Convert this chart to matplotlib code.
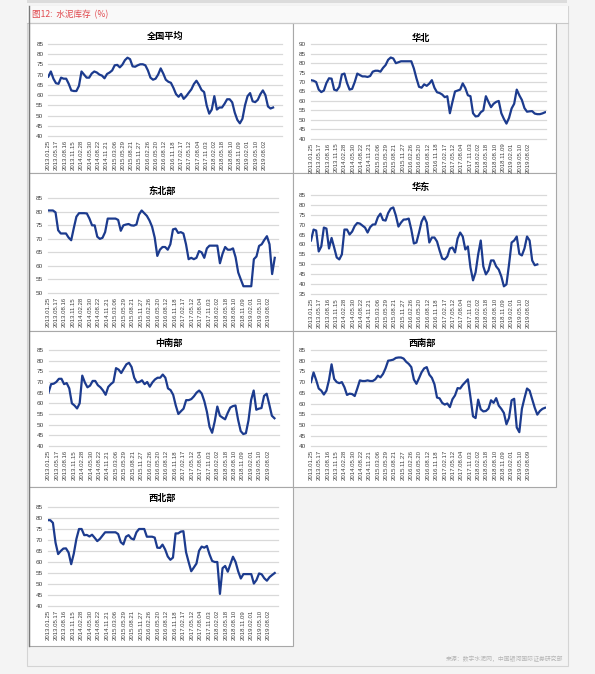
import numpy as np
import matplotlib
matplotlib.use('Agg')
import matplotlib.pyplot as plt
from matplotlib.patches import Rectangle

plt.rcParams['font.family'] = ['Liberation Sans', 'DejaVu Sans']
CJK = ['Noto Sans CJK SC', 'DejaVu Sans']

# weekly inventory ratio (%), one reading every 4 weeks from 2013.01.25
STEP = 4
national = [69, 71.5, 68, 65.8, 65.5, 68.5, 68, 68, 65.5, 62.3, 62, 62, 64.5, 71.5, 70, 68.5,
            68.5, 70.5, 71.5, 71, 70, 69.5, 68.2, 70.3, 71, 72, 74.5, 74.7, 73.5, 74.8, 77, 78.2,
            77.5, 74, 73.8, 74.5, 75, 75, 74.5, 72, 68.5, 67.5, 68, 70, 73, 70.5, 67.5, 66.5,
            66, 63.5, 60.5, 59.2, 60.6, 58.2, 59.5, 61.2, 62.8, 65.4, 67, 65, 62.5, 61.5, 55, 51,
            53, 59.5, 53, 54, 54, 55.8, 58, 58, 56.5, 51.5, 48, 46.3, 48.5, 55, 59.5, 61,
            57, 56.6, 57.7, 60.4, 62.3, 60, 54.5, 53.5, 54]
north = [71, 70.7, 70, 66, 64.7, 65.5, 69.5, 72, 71.8, 66, 65.5, 67.5, 74, 74.5, 69.5, 66,
         66.4, 70, 74.5, 73.7, 73, 73, 72.7, 73.2, 75.5, 76, 76, 75.5, 77.5, 79, 81.8, 83,
         82.5, 80, 80.5, 81, 81, 81, 81, 81, 77.2, 72, 67.5, 67, 68.8, 68, 69.2, 71,
         67, 64.6, 64.2, 63.4, 62, 62.5, 53.5, 59.5, 65, 65.5, 66, 69.3, 66.8, 63, 62.5, 53.5,
         51.8, 52, 54, 55, 62.5, 59.5, 56.7, 58.5, 59.5, 60, 53.5, 50.5, 48, 51, 56, 58.5,
         66, 63, 60.5, 56.2, 54.3, 54.5, 54.6, 53.3, 53, 53, 53.4, 54]
northeast = [80.5, 80.5, 80.5, 79.8, 73.2, 72, 72, 72, 70.5, 69.5, 74, 78.2, 79.5, 79.5, 79.5, 79.4,
             77.5, 75, 75, 70.8, 70, 70.4, 72.5, 77.5, 77.5, 77.5, 77.5, 77, 73, 75, 75.3, 75.5,
             75, 74.9, 75.3, 79, 80.5, 79.5, 78.5, 76.8, 74.5, 70.5, 63.7, 66, 67, 67, 66, 68,
             73.5, 73.8, 72.2, 72.5, 72, 68, 62.5, 63, 62.5, 63, 65.5, 65, 63, 66.5, 67.5, 67.5,
             67.5, 67.5, 61, 64.5, 67, 66, 66, 66.5, 63.2, 57.6, 55, 52.5, 52.5, 52.5, 52.5, 62.5,
             63.5, 67.4, 68, 69.6, 71, 68, 57, 63]
east = [62, 67.5, 67, 56.5, 59, 68.5, 68, 58, 63.3, 58.5, 53.5, 52.5, 55, 67.5, 67.5, 65,
        66.5, 69.3, 70.8, 70.5, 69.5, 68.5, 66, 68.7, 70, 70.1, 73.7, 75.5, 72.3, 72, 75.8, 78,
        78.6, 74.5, 69, 71, 72.5, 72.6, 73, 67.5, 60.5, 61, 66, 71.5, 74, 71, 61, 63.5,
        63.5, 61.5, 57, 53, 52.5, 54, 58, 58.5, 56, 63, 66, 64, 57.5, 59, 48.5, 42,
        46, 55, 62, 49, 45, 47, 52, 52, 49, 47.4, 44, 39, 40, 50, 61, 62,
        64, 55.3, 54.5, 58, 64, 62, 52, 49.6, 50]
central_south = [65, 69, 69.2, 70, 71.5, 71.5, 69, 69.5, 67, 60, 59, 57.6, 60, 73, 69.8, 67.5,
                 68.3, 70.5, 70.5, 68.5, 67.5, 66, 64, 67.7, 69, 70, 76.5, 75.8, 74.2, 76.3, 78.3, 79,
                 77, 72, 69.8, 70, 70.8, 69, 70, 67.8, 69.8, 71.2, 72, 72, 73.5, 72, 67, 66.2,
                 64, 59, 55, 56.3, 57.5, 61.5, 61.5, 62, 63.3, 65, 66, 64.6, 61, 56, 49, 46.2,
                 51.5, 58.5, 54.2, 53.3, 52.5, 55.5, 58, 58.7, 59, 52.3, 47, 45.6, 46, 52, 61.5, 66,
                 57, 57.5, 57.8, 63.5, 64.5, 59.5, 54.2, 53]
southwest = [70, 74.5, 71, 67, 66, 64.2, 66, 71, 78.3, 71.5, 70, 69.5, 70, 67.6, 64, 64.6,
             64.4, 63.5, 67, 70.8, 70.5, 70.5, 70.8, 70.5, 70.5, 71.3, 73, 72.2, 73.8, 76.5, 80, 80.2,
             80.5, 81.3, 81.5, 81.5, 81, 79.5, 78.5, 77, 71.2, 69.2, 71.8, 74.6, 76.4, 77, 73.5, 72,
             69, 62.8, 62.4, 60.3, 59.5, 60, 58.3, 62, 63.8, 67.2, 67, 68.7, 70, 71.3, 63, 54,
             53.2, 61.8, 57.3, 56.3, 56.5, 57.6, 61.5, 60.3, 62.5, 59, 57.5, 55.6, 50.3, 53.3, 61.5, 62.2,
             48.8, 46.6, 57.5, 62.5, 67, 66, 62, 58, 54.8, 56.5, 57.5, 58]
northwest = [79, 79, 77.8, 68.8, 63.6, 65, 66.1, 66.2, 64.3, 59, 63.8, 70.5, 75, 75, 72.2, 72.3,
             71.6, 72.4, 71, 69.5, 70.5, 72, 73.5, 73.5, 73.5, 73.5, 73.5, 72.7, 69, 68, 71.5, 72.2,
             70.7, 70.2, 73.5, 75, 75, 75, 71.5, 71.5, 71.5, 71.1, 66.5, 66.4, 67.9, 65.7, 62.5, 61,
             62, 73, 73, 73.8, 74, 64.5, 60, 55.8, 57.5, 59.3, 65.1, 67, 66.5, 67.3, 63.5, 60.5,
             60, 60, 45.5, 57.2, 58.2, 55.6, 59, 62.4, 60, 55.7, 52.5, 54.5, 54.5, 54.5, 54.5, 50.2,
             51.8, 54.8, 54.4, 52.6, 51.5, 53.1, 54.1, 55]

date_labels = ['2013.01.25', '2013.05.17', '2013.08.16', '2013.11.15', '2014.02.28', '2014.05.30',
               '2014.08.22', '2014.11.21', '2015.03.06', '2015.05.29', '2015.08.21', '2015.11.27',
               '2016.02.26', '2016.05.20', '2016.08.12', '2016.11.18', '2017.02.17', '2017.05.12',
               '2017.08.04', '2017.11.03', '2018.02.02', '2018.05.18', '2018.08.10', '2018.11.09',
               '2019.02.01', '2019.05.10', '2019.08.02']
date_labels_sw = date_labels[:-1] + ['2019.08.09']
LABEL_EVERY = 13

titles = ['全国平均', '华北', '东北部', '华东', '中南部', '西南部', '西北部']
series = [national, north, northeast, east, central_south, southwest, northwest]
ylims = [(40, 85), (40, 90), (50, 85), (35, 85), (40, 85), (40, 85), (40, 85)]

# layout in pixels: plot box (x0, x1, ytop, ybot), x max, title centre
W, H = 595, 674
boxes = [(48.3, 281.7, 43.7, 136.3), (311, 546, 44.3, 138.7),
         (47.7, 278, 198.3, 293), (311, 546, 194.7, 294.3),
         (48.5, 279, 350, 446), (311, 546, 350, 446.3),
         (47.7, 278, 507, 606)]
xmaxes = [365.5, 365.5, 353, 365.5, 355, 365.5, 353]
title_pos = [(165, 36), (421, 38), (162, 191.5), (421, 187), (169, 343), (422, 343), (162, 498.5)]

LINE = '#1c3b8e'
GRID = '#d9d9d9'
TXT = '#404040'

fig = plt.figure(figsize=(W / 100, H / 100), dpi=100, facecolor='#f4f4f4')

bg = fig.add_axes([0, 0, 1, 1], zorder=0)
bg.set_xlim(0, W)
bg.set_ylim(H, 0)
bg.axis('off')

bg.add_patch(Rectangle((27, 0), 540, 2.5, facecolor='#dcdcdc', edgecolor='none'))
bg.add_patch(Rectangle((27, 6), 540.5, 660, facecolor='#f3f3f3', edgecolor='#d4d4d4', lw=0.8))
bg.add_patch(Rectangle((27, 6), 540.5, 16.5, facecolor='#f9f9f9', edgecolor='none'))
bg.plot([27, 567.5], [22.5, 22.5], color='#c8c8c8', lw=0.8)
bg.text(32, 14.5, '图12:  水泥库存  (%)', family=CJK, fontsize=6.2, color='#e0484d',
        va='center', ha='left')

panels = [(28.5, 22.5, 264, 150), (292.5, 22.5, 263, 150),
          (28.5, 172.5, 264, 158), (292.5, 172.5, 263, 158),
          (28.5, 330.5, 264, 156.5), (292.5, 330.5, 263, 156.5),
          (28.5, 487, 264, 159)]
for (px, py, pw, ph) in panels:
    bg.add_patch(Rectangle((px, py), pw, ph, facecolor='white', edgecolor='#a8a8a8', lw=0.8))
bg.plot([28.5, 28.5], [6, 646], color='#7a7a7a', lw=1.0)

bg.text(563, 659, '来源：数字水泥网，中国银河国际证券研究部', family=CJK, fontsize=4.2,
        color='#b5b5b5', ha='right', va='center')

for i, vals in enumerate(series):
    x0, x1, yt, yb = boxes[i]
    ax = fig.add_axes([x0 / W, 1 - yb / H, (x1 - x0) / W, (yb - yt) / H], zorder=1)
    ax.set_facecolor('none')
    xs = np.arange(len(vals)) * STEP
    ax.plot(xs, vals, color=LINE, lw=1.6, solid_joinstyle='round', zorder=3)
    lo, hi = ylims[i]
    ax.set_ylim(lo, hi)
    ax.set_xlim(0, xmaxes[i])
    ax.set_yticks(np.arange(lo, hi + 1, 5))
    labels = date_labels_sw if titles[i] == '西南部' else date_labels
    ax.set_xticks(np.arange(len(labels)) * LABEL_EVERY, labels, rotation=90)
    ax.tick_params(axis='x', length=0, pad=2.8, labelsize=4.3, labelcolor=TXT)
    ax.tick_params(axis='y', length=0, pad=3.5, labelsize=4.6, labelcolor=TXT)
    ax.yaxis.grid(True, color=GRID, lw=0.9)
    for gl in ax.get_ygridlines():
        gl.set_clip_on(False)
    ax.set_axisbelow(True)
    for s in ax.spines.values():
        s.set_visible(False)
    tx, ty = title_pos[i]
    bg.text(tx, ty, titles[i], family=CJK, fontsize=6.6, fontweight='bold',
            color='black', ha='center', va='center')

fig.savefig('out.png', dpi=100, facecolor=fig.get_facecolor())
